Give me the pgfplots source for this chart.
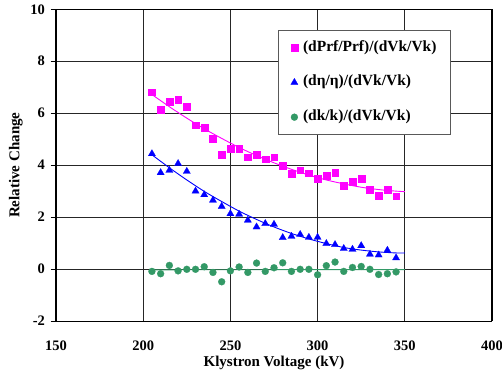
\documentclass[border=0pt]{standalone}
\usepackage{fontspec}
\setmainfont{Liberation Serif}
\usepackage{pgfplots}
\pgfplotsset{compat=1.18}
\definecolor{mag}{RGB}{255,0,255}
\definecolor{blu}{RGB}{0,0,255}
\definecolor{grn}{RGB}{51,153,102}
\begin{document}
\begin{tikzpicture}[x=1pt,y=1pt]
\path[use as bounding box] (0,0) rectangle (502,382);
\begin{axis}[
  at={(56pt,61pt)}, anchor=south west,
  scale only axis, width=436pt, height=311.7pt,
  xmin=150, xmax=400, ymin=-2, ymax=10,
  xtick={150,200,250,300,350,400}, xticklabels={150,200,250,300,350,400},
  ytick={-2,0,2,4,6,8,10}, yticklabels={-2,0,2,4,6,8,10},
  grid=major, grid style={black!85, line width=0.7pt},
  separate axis lines,
  x axis line style={black, line width=0.9pt},
  y axis line style={black, line width=1.3pt},
  tick align=outside, ytick pos=left, xtick pos=bottom,
  major tick length=5.5pt,
  xtick style={draw=none},
  ytick style={black, line width=0.8pt},
  tick label style={font=\fontsize{14.5}{16}\selectfont\bfseries},
  xticklabel style={yshift=-11pt},
  yticklabel style={xshift=-2pt},
  xlabel={Klystron Voltage (kV)},
  ylabel={Relative Change},
  label style={font=\fontsize{15}{17}\selectfont\bfseries},
  xlabel style={at={(axis description cs:0.5,-0.136)}, anchor=center},
  ylabel style={at={(axis description cs:-0.0924,0.5)}, anchor=center},
  legend style={at={(0.51,0.934)}, anchor=north west, draw=black!65, line width=0.8pt,
    fill=white, inner xsep=12pt, inner ysep=8pt, row sep=15.7pt,
    font=\fontsize{15.5}{18}\selectfont\bfseries,
    nodes={inner sep=2pt, text height=11pt, text depth=4pt},
    /tikz/every odd column/.append style={column sep=3pt}},
  legend cell align=left,
  legend image code/.code={\draw[mark repeat=2,mark phase=2,#1] plot coordinates {(0pt,0pt)(4pt,0pt)(8pt,0pt)};},
]
\addplot[only marks, mark=square*, mark size=3.4pt, color=mag, mark options={fill=mag, draw=mag, line width=0.2pt}] coordinates {
(205,6.81)(210,6.13)(215,6.45)(220,6.51)(225,6.25)(230,5.54)(235,5.45)(240,5.01)(245,4.42)(250,4.65)
(255,4.65)(260,4.31)(265,4.40)(270,4.23)(275,4.31)(280,3.97)(285,3.68)(290,3.81)(295,3.69)(300,3.49)
(305,3.59)(310,3.72)(315,3.22)(320,3.38)(325,3.49)(330,3.05)(335,2.82)(340,3.05)(345,2.81)};
\addlegendentry{(dPrf/Prf)/(dVk/Vk)}
\addplot[only marks, mark=triangle*, mark size=4.2pt, color=blu, mark options={fill=blu, draw=blu, line width=0.2pt}] coordinates {
(205,4.44)(210,3.71)(215,3.80)(220,4.06)(225,3.76)(230,3.00)(235,2.86)(240,2.65)(245,2.41)(250,2.13)
(255,2.11)(260,1.88)(265,1.62)(270,1.75)(275,1.72)(280,1.21)(285,1.26)(290,1.33)(295,1.22)(300,1.22)
(305,0.98)(310,0.94)(315,0.79)(320,0.76)(325,0.90)(330,0.57)(335,0.54)(340,0.72)(345,0.43)};
\addlegendentry{(dη/η)/(dVk/Vk)}
\addplot[only marks, mark=*, mark size=3.5pt, color=grn, mark options={fill=grn, draw=grn, line width=0.2pt}] coordinates {
(205,-0.09)(210,-0.18)(215,0.14)(220,-0.07)(225,-0.01)(230,-0.01)(235,0.09)(240,-0.13)(245,-0.49)(250,-0.07)
(255,0.08)(260,-0.13)(265,0.23)(270,-0.09)(275,0.05)(280,0.24)(285,-0.09)(290,-0.01)(295,-0.01)(300,-0.22)
(305,0.13)(310,0.27)(315,-0.09)(320,0.06)(325,0.10)(330,-0.01)(335,-0.21)(340,-0.18)(345,-0.11)};
\addlegendentry{(dk/k)/(dVk/Vk)}
\addplot[mag, line width=0.9pt, smooth, no markers, forget plot] coordinates {
(205,6.72)(215,6.25)(225,5.81)(235,5.40)(245,5.03)(255,4.68)(265,4.37)(275,4.09)(285,3.84)(295,3.62)
(305,3.43)(315,3.28)(325,3.15)(335,3.06)(345,3.00)(350,2.98)};
\addplot[blu, line width=0.9pt, smooth, no markers, forget plot] coordinates {
(205,4.40)(215,3.90)(225,3.43)(235,2.99)(245,2.60)(255,2.23)(265,1.91)(275,1.62)(285,1.37)(295,1.16)
(305,0.98)(315,0.83)(325,0.73)(335,0.66)(345,0.62)(350,0.62)};
\addplot[grn, line width=0.9pt, no markers, forget plot] coordinates {(205,-0.03)(350,-0.02)};
\end{axis}
\end{tikzpicture}
\end{document}
